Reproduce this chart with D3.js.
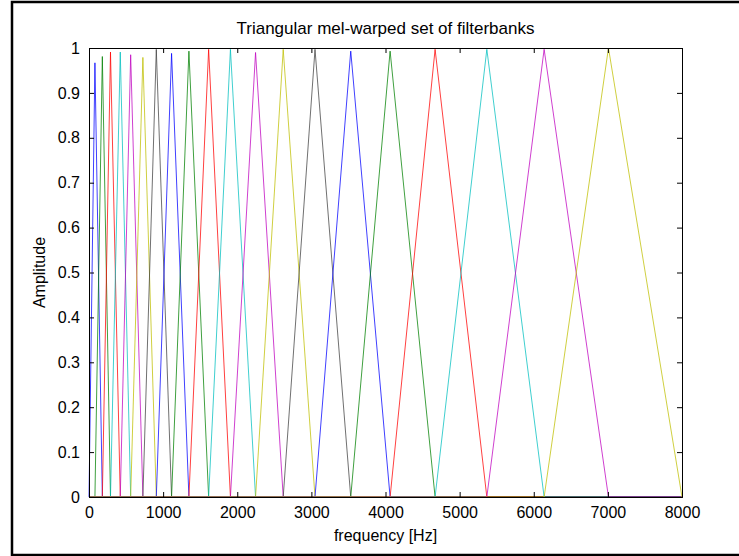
<!DOCTYPE html>
<html>
<head>
<meta charset="utf-8">
<script src="https://cdn.jsdelivr.net/npm/d3@7"></script>
<style>
  body { margin: 0; background: #fff; }
  text { font-family: "Liberation Sans", Arial, sans-serif; }
</style>
</head>
<body>
<svg id="chart" width="739" height="556"></svg>
<script>
// filter edge points in Hz: 0, the 20 filter centres, then 8000
var edgesHz = [0, 80, 180, 290, 422, 562, 727, 908, 1114, 1348, 1614, 1908,
  2247, 2620, 3049, 3531, 4062, 4669, 5367, 6140, 7008, 8000];
// peak amplitude of each filter (sampled, so a little under 1)
var peaks = [0.967, 0.981, 0.991, 0.991, 0.985, 0.979, 0.997, 0.988, 0.993, 0.997,
  0.997, 0.99, 0.997, 0.997, 0.993, 0.993, 0.997, 0.997, 0.997, 1.0];
// old matlab colour order b g r c m y k
var colorOrder = ['#0000ff', '#008000', '#ff0000', '#00bfbf', '#bf00bf', '#bfbf00', '#404040'];
var xTicks = [0, 1000, 2000, 3000, 4000, 5000, 6000, 7000, 8000];
var yTicks = [0, 0.1, 0.2, 0.3, 0.4, 0.5, 0.6, 0.7, 0.8, 0.9, 1];

function drawChart() {
  var svg = d3.select('#chart');
  // plot box (careful: "top" is taken by window.top)
  var pLeft = 89, pRight = 682, pTop = 48, pBottom = 497;

  // outer figure frame
  svg.append('rect')
    .attr('x', 12).attr('y', 2)
    .attr('width', 740).attr('height', 553)
    .attr('fill', 'none').attr('stroke', '#000').attr('stroke-width', 2.5);

  var x = d3.scaleLinear().domain([0, 8000]).range([pLeft, pRight]);
  var y = d3.scaleLinear().domain([0, 1]).range([pBottom, pTop]);

  // each filter is a full-range line, zero outside its support
  var filters = peaks.map(function (p, i) {
    return [
      [0, 0],
      [edgesHz[i], 0],
      [edgesHz[i + 1], p],
      [edgesHz[i + 2], 0],
      [8000, 0]
    ];
  });

  var line = d3.line().x(d => x(d[0])).y(d => y(d[1]));

  svg.append('g')
    .selectAll('path')
    .data(filters)
    .enter()
    .append('path')
    .attr('d', line)
    .attr('fill', 'none')
    .attr('stroke', (d, i) => colorOrder[i % colorOrder.length])
    .attr('stroke-opacity', 0.75)
    .attr('stroke-width', 1);

  // axes, matlab style: ticks inward on all four sides
  var tickLen = 5;
  svg.append('g')
    .attr('transform', 'translate(0,' + pBottom + ')')
    .call(d3.axisBottom(x).tickValues(xTicks).tickSize(-tickLen).tickPadding(10).tickFormat(d3.format('d')));
  svg.append('g')
    .attr('transform', 'translate(0,' + pTop + ')')
    .call(d3.axisTop(x).tickValues(xTicks).tickSize(-tickLen).tickFormat(''));
  svg.append('g')
    .attr('transform', 'translate(' + pLeft + ',0)')
    .call(d3.axisLeft(y).tickValues(yTicks).tickSize(-tickLen).tickPadding(9).tickFormat(d => String(+d.toFixed(1))));
  svg.append('g')
    .attr('transform', 'translate(' + pRight + ',0)')
    .call(d3.axisRight(y).tickValues(yTicks).tickSize(-tickLen).tickFormat(''));

  svg.selectAll('.domain').attr('stroke', '#000').attr('stroke-width', 1);
  svg.selectAll('.tick line').attr('stroke', '#000');
  svg.selectAll('.tick text').attr('font-size', 16).attr('fill', '#000')
    .style('font-family', '"Liberation Sans", Arial, sans-serif');

  // title and labels
  svg.append('text')
    .attr('x', (pLeft + pRight) / 2).attr('y', 34)
    .attr('text-anchor', 'middle').attr('font-size', 17)
    .text('Triangular mel-warped set of filterbanks');
  svg.append('text')
    .attr('x', (pLeft + pRight) / 2).attr('y', 541)
    .attr('text-anchor', 'middle').attr('font-size', 16)
    .text('frequency [Hz]');
  svg.append('text')
    .attr('transform', 'translate(45,' + (pTop + pBottom) / 2 + ') rotate(-90)')
    .attr('text-anchor', 'middle').attr('font-size', 16)
    .text('Amplitude');
}
drawChart();
</script>
</body>
</html>
